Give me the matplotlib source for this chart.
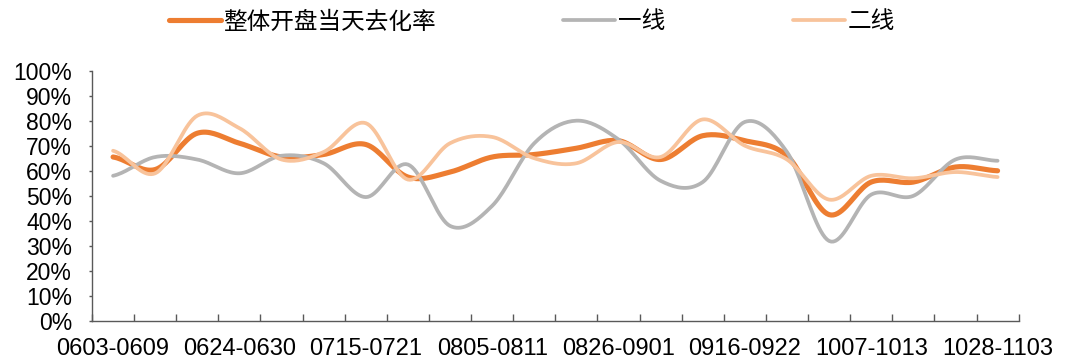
import matplotlib

matplotlib.use("Agg")
import matplotlib.pyplot as plt
import numpy as np

plt.rcParams["font.family"] = ["Liberation Sans", "Noto Sans CJK SC", "DejaVu Sans"]

weeks = [
    "0603-0609", "0610-0616", "0617-0623", "0624-0630", "0701-0707", "0708-0714",
    "0715-0721", "0722-0728", "0729-0804", "0805-0811", "0812-0818", "0819-0825",
    "0826-0901", "0902-0908", "0909-0915", "0916-0922", "0923-0929", "0930-1006",
    "1007-1013", "1014-1020", "1021-1027", "1028-1103",
]
overall = [65.5, 60.5, 75.0, 71.0, 65.5, 66.5, 70.5, 57.5, 59.5, 65.5, 66.5, 69.0,
           72.0, 64.5, 74.0, 72.0, 66.0, 42.5, 55.5, 55.5, 61.5, 60.0]
tier1 = [58.0, 65.5, 64.5, 59.0, 66.0, 63.0, 49.5, 62.5, 38.0, 46.0, 71.0, 80.0,
         72.5, 56.0, 55.5, 79.5, 67.5, 32.0, 50.5, 50.0, 64.5, 64.0]
tier2 = [68.0, 59.0, 82.0, 77.0, 64.5, 67.5, 79.0, 56.5, 71.0, 73.5, 65.0, 63.0,
         71.5, 65.5, 80.5, 70.0, 64.5, 48.5, 58.0, 57.0, 59.5, 57.5]

series = [
    ("整体开盘当天去化率", overall, "#ED7D31", 3.7),
    ("一线", tier1, "#B4B4B4", 2.7),
    ("二线", tier2, "#F8C39B", 2.7),
]


def smooth(values, steps=20):
    # Catmull-Rom, close to the smoothed lines of office charts
    p = np.asarray(values, dtype=float)
    p = np.concatenate([[p[0]], p, [p[-1]]])
    xs, ys = [], []
    for i in range(1, len(p) - 2):
        t = np.linspace(0, 1, steps, endpoint=False)
        p0, p1, p2, p3 = p[i - 1], p[i], p[i + 1], p[i + 2]
        y = 0.5 * ((2 * p1) + (-p0 + p2) * t + (2 * p0 - 5 * p1 + 4 * p2 - p3) * t ** 2
                   + (-p0 + 3 * p1 - 3 * p2 + p3) * t ** 3)
        xs.append(i - 1 + t)
        ys.append(y)
    xs.append([len(values) - 1])
    ys.append([values[-1]])
    return np.concatenate(xs), np.concatenate(ys)


fig = plt.figure(figsize=(10.7, 3.6), dpi=100, facecolor="#ffffff")
ax = fig.add_axes([0.086, 0.108, 0.866, 0.696])

for label, vals, color, lw in series:
    sx, sy = smooth(vals)
    ax.plot(sx, sy / 100.0, color=color, linewidth=lw, label=label, solid_capstyle="round")

n = len(weeks)
ax.set_xlim(-0.5, n - 0.5)
ax.set_ylim(0, 1.0)
ax.set_yticks(np.arange(0, 1.01, 0.1))
ax.set_yticklabels([f"{int(round(v * 100))}%" for v in np.arange(0, 1.01, 0.1)])
ax.set_xticks(np.arange(0, n, 3))
ax.set_xticklabels(weeks[::3])
ax.set_xticks(np.arange(-0.5, n, 1.0), minor=True)

for side in ("top", "right"):
    ax.spines[side].set_visible(False)
for side in ("left", "bottom"):
    ax.spines[side].set_color("#595959")
    ax.spines[side].set_linewidth(1.0)

ax.tick_params(axis="x", which="major", length=0, pad=12, labelsize=17, colors="#000000")
ax.tick_params(axis="x", which="minor", direction="in", length=5, width=1.0, color="#595959")
ax.tick_params(axis="y", direction="out", length=2.5, width=1.0, color="#595959",
               pad=12, labelsize=16.5, labelcolor="#000000")

handles, labels = ax.get_legend_handles_labels()
fig.legend(handles, labels, loc="center", bbox_to_anchor=(0.497, 0.939), ncol=3,
           frameon=False, handlelength=2.2, handletextpad=0.12, columnspacing=5.4,
           prop={"family": ["Noto Sans CJK SC", "DejaVu Sans"], "size": 17})

fig.savefig("out.png", dpi=100, facecolor="#ffffff")
